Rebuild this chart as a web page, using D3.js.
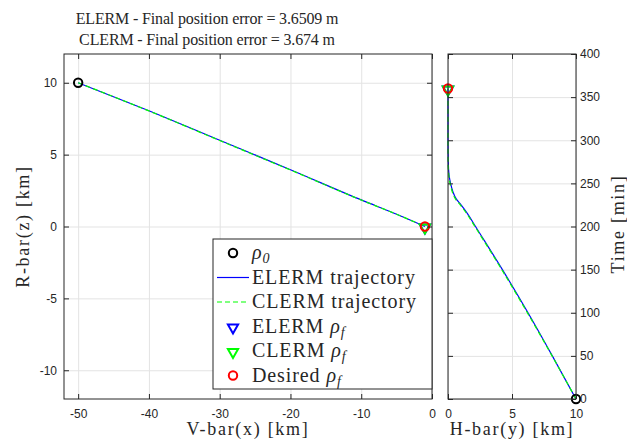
<!DOCTYPE html>
<html>
<head>
<meta charset="utf-8">
<script src="https://cdn.jsdelivr.net/npm/d3@7"></script>
<style>
  body { margin: 0; background: #fff; }
  .tick text { font-family: 'Liberation Sans', Arial, sans-serif; font-size: 12px; fill: #262626; }
  .serif { font-family: 'Liberation Serif', 'Times New Roman', serif; fill: #262626; }
</style>
</head>
<body>
<svg id="chart" width="627" height="440"></svg>
<script>
/* global d3: false */

// V-bar / R-bar trajectory (km)
const vbarE = [-50, -40, -30, -20, -10, -5, -1];
const rbarE = [10, 8.05, 6.0, 3.95, 1.85, 0.85, 0];
const vbarC = [-50, -40, -30, -20, -10, -5, -1];
const rbarC = [10, 8.04, 5.98, 3.93, 1.84, 0.85, 0];

// H-bar vs time
const timeMin = [0, 50, 100, 150, 200, 215, 225, 232, 240, 250, 260, 275, 300, 360];
const hbarE = [10, 8.15, 6.25, 4.25, 2.15, 1.52, 1.02, 0.64, 0.39, 0.2, 0.08, 0.02, 0, 0];
const hbarC = [10, 8.13, 6.2, 4.2, 2.1, 1.46, 0.96, 0.58, 0.34, 0.16, 0.06, 0.01, 0, 0];

const start = { v: -50, r: 10, h: 10, t: 0 };
const finalE = { v: -1, r: 0, h: 0, t: 360 };
const finalC = { v: -1, r: 0, h: 0, t: 360 };
const desired = { v: -1, r: 0, h: 0, t: 360 };

const vTicks = [-50, -40, -30, -20, -10, 0];
const rTicks = [-10, -5, 0, 5, 10];
const hTicks = [0, 5, 10];
const tTicks = [0, 50, 100, 150, 200, 250, 300, 350, 400];

const titles = ['ELERM - Final position error = 3.6509 m', 'CLERM - Final position error = 3.674 m'];

const svg = d3.select('#chart');
const axisColor = '#262626';
const gridColor = '#e3e3e3';
const blue = '#0000ff';
const green = '#00ff00';
const red = '#ff0000';

const L = { x0: 64, x1: 432, y0: 54, y1: 399 };
const R = { x0: 448, x1: 576, y0: 54, y1: 399 };

const xL = d3.scaleLinear().domain([-52, 0]).range([L.x0, L.x1]);
const yL = d3.scaleLinear().domain([-12, 12]).range([L.y1, L.y0]);
const xR = d3.scaleLinear().domain([0, 10]).range([R.x0, R.x1]);
const yR = d3.scaleLinear().domain([0, 400]).range([R.y1, R.y0]);

function drawGrid(box, x, y, xt, yt) {
  const g = svg.append('g');
  g.append('g')
    .attr('transform', `translate(0,${box.y1})`)
    .call(d3.axisBottom(x).tickValues(xt).tickSize(-(box.y1 - box.y0)).tickFormat(''))
    .call(s => s.select('.domain').remove())
    .call(s => s.selectAll('line').attr('stroke', gridColor));
  g.append('g')
    .attr('transform', `translate(${box.x0},0)`)
    .call(d3.axisLeft(y).tickValues(yt).tickSize(-(box.x1 - box.x0)).tickFormat(''))
    .call(s => s.select('.domain').remove())
    .call(s => s.selectAll('line').attr('stroke', gridColor));
}

function drawAxes(box, x, y, xt, yt, yRight) {
  const g = svg.append('g');
  const style = s => {
    s.select('.domain').remove();
    s.selectAll('line').attr('stroke', axisColor);
  };
  g.append('g')
    .attr('transform', `translate(0,${box.y1})`)
    .call(d3.axisBottom(x).tickValues(xt).tickSize(-5).tickPadding(10))
    .call(style);
  g.append('g')
    .attr('transform', `translate(0,${box.y0})`)
    .call(d3.axisTop(x).tickValues(xt).tickSize(-5).tickFormat(''))
    .call(style);
  g.append('g')
    .attr('transform', `translate(${box.x0},0)`)
    .call(d3.axisLeft(y).tickValues(yt).tickSize(-5).tickPadding(7)
      .tickFormat(yRight ? '' : d3.format('d')))
    .call(style);
  g.append('g')
    .attr('transform', `translate(${box.x1},0)`)
    .call(d3.axisRight(y).tickValues(yt).tickSize(-5).tickPadding(4)
      .tickFormat(yRight ? d3.format('d') : ''))
    .call(style);
  g.append('rect')
    .attr('x', box.x0).attr('y', box.y0)
    .attr('width', box.x1 - box.x0).attr('height', box.y1 - box.y0)
    .attr('fill', 'none').attr('stroke', axisColor).attr('stroke-width', 1);
  g.selectAll('.tick text').text(function () { return this.textContent.replace('−', '-'); });
}

drawGrid(L, xL, yL, vTicks, rTicks);
drawGrid(R, xR, yR, hTicks, tTicks);

// trajectories
const lineL = d3.line().x(d => xL(d[0])).y(d => yL(d[1])).curve(d3.curveMonotoneX);
const lineR = d3.line().x(d => xR(d[0])).y(d => yR(d[1])).curve(d3.curveMonotoneY);

svg.append('path').attr('d', lineL(d3.zip(vbarE, rbarE)))
  .attr('fill', 'none').attr('stroke', blue).attr('stroke-width', 1.2);
svg.append('path').attr('d', lineL(d3.zip(vbarC, rbarC)))
  .attr('fill', 'none').attr('stroke', green).attr('stroke-width', 1.2)
  .attr('stroke-dasharray', '5,3');
svg.append('path').attr('d', lineR(d3.zip(hbarE, timeMin)))
  .attr('fill', 'none').attr('stroke', blue).attr('stroke-width', 1.2);
svg.append('path').attr('d', lineR(d3.zip(hbarC, timeMin)))
  .attr('fill', 'none').attr('stroke', green).attr('stroke-width', 1.2)
  .attr('stroke-dasharray', '5,3');

const tri = d3.symbol().type(d3.symbolTriangle).size(45);

function circle(cx, cy, color) {
  svg.append('circle').attr('cx', cx).attr('cy', cy).attr('r', 4.2)
    .attr('fill', 'none').attr('stroke', color).attr('stroke-width', 2);
}
function triangle(cx, cy, color) {
  svg.append('path').attr('d', tri())
    .attr('transform', `translate(${cx},${cy + 1}) rotate(180)`)
    .attr('fill', 'none').attr('stroke', color).attr('stroke-width', 2);
}

circle(xL(start.v), yL(start.r), '#000');
triangle(xL(finalE.v), yL(finalE.r), blue);
triangle(xL(finalC.v), yL(finalC.r), green);
circle(xL(desired.v), yL(desired.r), red);

circle(xR(start.h), yR(start.t), '#000');
triangle(xR(finalE.h), yR(finalE.t), blue);
triangle(xR(finalC.h), yR(finalC.t), green);
circle(xR(desired.h), yR(desired.t), red);

drawAxes(L, xL, yL, vTicks, rTicks, false);
drawAxes(R, xR, yR, hTicks, tTicks, true);

// titles and labels
svg.selectAll('.title').data(titles).enter().append('text')
  .attr('class', 'serif title')
  .attr('x', 207).attr('y', (d, i) => 24 + i * 21)
  .attr('text-anchor', 'middle').attr('font-size', 16)
  .attr('letter-spacing', -0.15)
  .text(d => d);

const labelAttrs = s => s.attr('class', 'serif').attr('font-size', 18)
  .attr('letter-spacing', 1.7).attr('text-anchor', 'middle');

svg.append('text').call(labelAttrs)
  .attr('x', (L.x0 + L.x1) / 2).attr('y', 435)
  .text('V-bar(x) [km]');
svg.append('text').call(labelAttrs)
  .attr('x', (R.x0 + R.x1) / 2).attr('y', 435)
  .text('H-bar(y) [km]');
svg.append('text').call(labelAttrs)
  .attr('transform', `translate(29,${(L.y0 + L.y1) / 2}) rotate(-90)`)
  .text('R-bar(z) [km]');
svg.append('text').call(labelAttrs)
  .attr('transform', `translate(624,224) rotate(-90)`)
  .text('Time [min]');

// legend
const legendItems = [
  { label: 'ρ', sub: '0', type: 'circle', color: '#000', pre: '' },
  { label: 'ELERM trajectory', type: 'line', color: blue },
  { label: 'CLERM trajectory', type: 'dash', color: green },
  { label: 'ρ', sub: 'f', type: 'tri', color: blue, pre: 'ELERM ' },
  { label: 'ρ', sub: 'f', type: 'tri', color: green, pre: 'CLERM ' },
  { label: 'ρ', sub: 'f', type: 'circle', color: red, pre: 'Desired ' },
];

const lg = svg.append('g');
lg.append('rect').attr('x', 213).attr('y', 239).attr('width', 219).attr('height', 150)
  .attr('fill', '#fff').attr('stroke', axisColor).attr('stroke-width', 1);

legendItems.forEach((it, i) => {
  const cy = 253 + i * 24.5;
  if (it.type === 'circle') {
    lg.append('circle').attr('cx', 233).attr('cy', cy).attr('r', 4.2)
      .attr('fill', 'none').attr('stroke', it.color).attr('stroke-width', 2);
  } else if (it.type === 'tri') {
    lg.append('path').attr('d', tri())
      .attr('transform', `translate(233,${cy + 1}) rotate(180)`)
      .attr('fill', 'none').attr('stroke', it.color).attr('stroke-width', 2);
  } else {
    lg.append('line').attr('x1', 217).attr('x2', 249).attr('y1', cy).attr('y2', cy)
      .attr('stroke', it.color).attr('stroke-width', 1.2)
      .attr('stroke-dasharray', it.type === 'dash' ? '5,3' : null);
  }
  const t = lg.append('text').attr('class', 'serif').attr('font-size', 20)
    .attr('letter-spacing', 0.9)
    .attr('x', 252).attr('y', cy + 6);
  if (it.sub) {
    if (it.pre) t.append('tspan').text(it.pre);
    t.append('tspan').attr('font-style', 'italic').text(it.label);
    t.append('tspan').attr('font-style', 'italic').attr('font-size', 14)
      .attr('dy', 4).text(it.sub);
  } else {
    t.text(it.label);
  }
});
</script>
</body>
</html>
